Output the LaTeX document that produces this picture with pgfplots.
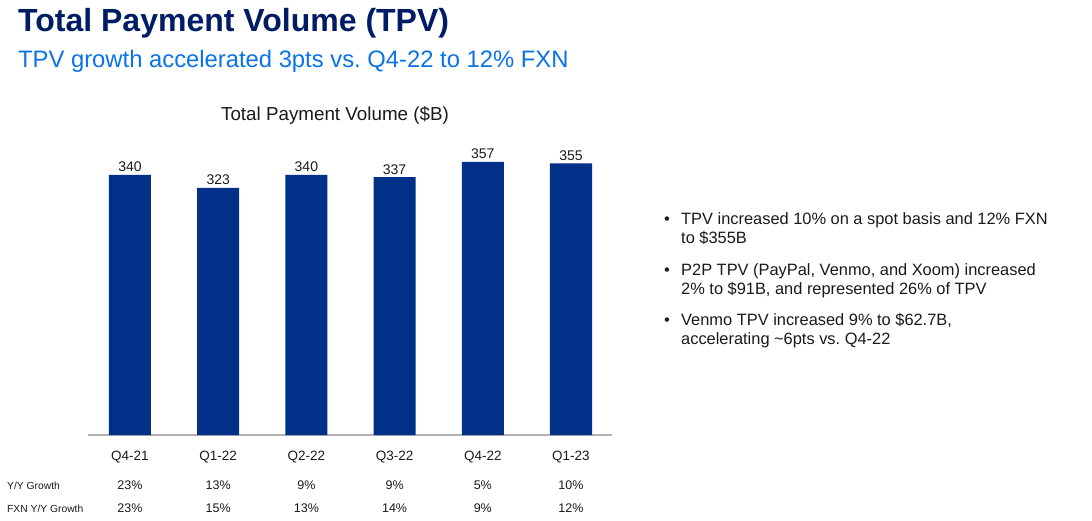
\documentclass[border=0pt]{standalone}
\usepackage{pgfplots}
\pgfplotsset{compat=1.18}
\usepackage{fontspec}
\setmainfont{Liberation Sans}

\definecolor{barblue}{HTML}{003087}
\definecolor{titlenavy}{HTML}{001C64}
\definecolor{subblue}{HTML}{0A74E6}
\definecolor{txt}{HTML}{1A1A1A}

\newcommand{\fs}[1]{\fontsize{#1bp}{#1bp}\selectfont}

\begin{document}
\begin{tikzpicture}[x=1bp,y=-1bp]
\useasboundingbox (0,0) rectangle (1092,521);

% headings
\node[anchor=base west,inner sep=0,text=titlenavy] at (18,32) {\fs{32}\bfseries Total Payment Volume (TPV)};
\node[anchor=base west,inner sep=0,text=subblue] at (18,68) {\fs{23.8}TPV growth accelerated 3pts vs.\ Q4-22 to 12\% FXN};
\node[anchor=base,inner sep=0,text=txt] at (335,121) {\fs{18.8}Total Payment Volume (\$B)};

\begin{axis}[
    at={(88bp,-435bp)}, anchor=south west,
    scale only axis,
    width=524bp, height=306bp,
    ybar, bar width=42bp,
    xmin=-0.476, xmax=5.465,
    ymin=0, ymax=400,
    axis x line=bottom, axis y line=none,
    x axis line style={-, draw=black!30, line width=1.3bp},
    xtick=data,
    xticklabels={Q4-21,Q1-22,Q2-22,Q3-22,Q4-22,Q1-23},
    major tick length=0pt,
    xticklabel style={font=\fs{13.5}, text=txt, anchor=base, yshift=-25bp, inner sep=0pt},
    ytick=\empty,
    /pgf/number format/assume math mode=true,
    nodes near coords,
    nodes near coords style={font=\fs{14}, text=txt, anchor=base, yshift=3bp, inner sep=0pt},
    clip=false,
]
\addplot[fill=barblue, draw=none] coordinates {
    (0,340) (1,323) (2,340) (3,337) (4,357) (5,355)
};
% growth table
\node[anchor=base,text=txt,font=\fs{12.5}] at (axis cs:0,0) [yshift=-54bp] {23\%};
\node[anchor=base,text=txt,font=\fs{12.5}] at (axis cs:1,0) [yshift=-54bp] {13\%};
\node[anchor=base,text=txt,font=\fs{12.5}] at (axis cs:2,0) [yshift=-54bp] {9\%};
\node[anchor=base,text=txt,font=\fs{12.5}] at (axis cs:3,0) [yshift=-54bp] {9\%};
\node[anchor=base,text=txt,font=\fs{12.5}] at (axis cs:4,0) [yshift=-54bp] {5\%};
\node[anchor=base,text=txt,font=\fs{12.5}] at (axis cs:5,0) [yshift=-54bp] {10\%};
\node[anchor=base,text=txt,font=\fs{12.5}] at (axis cs:0,0) [yshift=-77bp] {23\%};
\node[anchor=base,text=txt,font=\fs{12.5}] at (axis cs:1,0) [yshift=-77bp] {15\%};
\node[anchor=base,text=txt,font=\fs{12.5}] at (axis cs:2,0) [yshift=-77bp] {13\%};
\node[anchor=base,text=txt,font=\fs{12.5}] at (axis cs:3,0) [yshift=-77bp] {14\%};
\node[anchor=base,text=txt,font=\fs{12.5}] at (axis cs:4,0) [yshift=-77bp] {9\%};
\node[anchor=base,text=txt,font=\fs{12.5}] at (axis cs:5,0) [yshift=-77bp] {12\%};
\end{axis}

% row labels
\node[anchor=base west,inner sep=0,text=txt] at (7,489) {\fs{10.3}Y/Y Growth};
\node[anchor=base west,inner sep=0,text=txt] at (7,512) {\fs{10.3}FXN Y/Y Growth};

% bullets
\begin{scope}[every node/.style={anchor=base west,inner sep=0,text=txt,font=\fs{16.4}}]
\node at (664,225) {\textbullet};
\node at (681,225) {TPV increased 10\% on a spot basis and 12\% FXN};
\node at (681,244) {to \$355B};
\node at (664,276) {\textbullet};
\node at (681,276) {P2P TPV (PayPal, Venmo, and Xoom) increased};
\node at (681,295) {2\% to \$91B, and represented 26\% of TPV};
\node at (664,326) {\textbullet};
\node at (681,326) {Venmo TPV increased 9\% to \$62.7B,};
\node at (681,345) {accelerating \textasciitilde 6pts vs.\ Q4-22};
\end{scope}
\end{tikzpicture}
\end{document}
